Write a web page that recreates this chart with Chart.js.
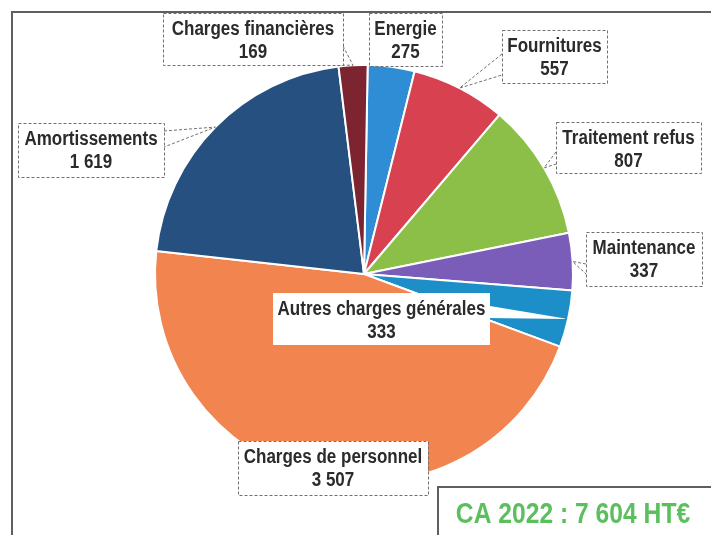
<!DOCTYPE html>
<html>
<head>
<meta charset="utf-8">
<script src="https://cdn.jsdelivr.net/npm/chart.js@4"></script>
<style>
  html, body { margin: 0; padding: 0; background: #fff; }
  canvas { display: block; }
</style>
</head>
<body>
<canvas id="chart" width="711" height="535"></canvas>
<script>
// Répartition des charges 2022 (k€)
var categories = ["Energie", "Fournitures", "Traitement refus", "Maintenance",
  "Autres charges générales", "Charges de personnel", "Amortissements", "Charges financières"];
var values = [275, 557, 807, 337, 333, 3507, 1619, 169];
var caLabel = "CA 2022 : 7 604 HT€";

var sliceColors = ["#2f8dd6", "#d8414f", "#8cbf47", "#7a5db8", "#1c8ec8", "#f2844f", "#25507f", "#7c2531"];

// label boxes: [x, y, w, h], pointer base points on the box edge
var labelLayout = {
  "Energie":                  { box: [369, 13, 73, 53] },
  "Fournitures":              { box: [502, 30, 105, 53], base: [[502, 54], [502, 75]] },
  "Traitement refus":         { box: [556, 122, 145, 51], base: [[556, 152], [556, 164]] },
  "Maintenance":              { box: [586, 232, 116, 54], base: [[586, 264], [586, 274]] },
  "Autres charges générales": { box: [273, 293, 217, 52], base: [[490, 306], [490, 318]], plain: true },
  "Charges de personnel":     { box: [238, 441, 190, 54] },
  "Amortissements":           { box: [18, 123, 146, 54], base: [[164, 131], [164, 147]] },
  "Charges financières":      { box: [163, 13, 180, 52], base: [[343, 46], [336, 65]] }
};

function fmt(v) {
  return String(v).replace(/\B(?=(\d{3})+(?!\d))/g, " ");
}

function narrowText(ctx, str, x, y, size, color) {
  ctx.save();
  ctx.translate(x, y);
  ctx.scale(0.85, 1);
  ctx.font = "bold " + size + "px 'Liberation Sans', Arial, sans-serif";
  ctx.fillStyle = color;
  ctx.textAlign = "center";
  ctx.textBaseline = "middle";
  ctx.fillText(str, 0, 0);
  ctx.restore();
}

var calloutPlugin = {
  id: "callouts",
  afterDatasetsDraw: function (chart) {
    var ctx = chart.ctx;
    var arcs = chart.getDatasetMeta(0).data;

    arcs.forEach(function (arc, i) {
      var name = categories[i];
      var lay = labelLayout[name];
      if (!lay) return;
      var b = lay.box;
      var mid = (arc.startAngle + arc.endAngle) / 2;
      var tip = [arc.x + Math.cos(mid) * arc.outerRadius, arc.y + Math.sin(mid) * arc.outerRadius];

      ctx.save();
      // pointer wedge
      if (lay.base) {
        ctx.beginPath();
        ctx.moveTo(lay.base[0][0], lay.base[0][1]);
        ctx.lineTo(tip[0], tip[1]);
        ctx.lineTo(lay.base[1][0], lay.base[1][1]);
        ctx.closePath();
        ctx.fillStyle = "#fff";
        ctx.fill();
        if (!lay.plain) {
          ctx.beginPath();
          ctx.moveTo(lay.base[0][0], lay.base[0][1]);
          ctx.lineTo(tip[0], tip[1]);
          ctx.lineTo(lay.base[1][0], lay.base[1][1]);
          ctx.strokeStyle = "#6f6f6f";
          ctx.lineWidth = 1;
          ctx.setLineDash([3, 2]);
          ctx.stroke();
        }
      }
      // box
      ctx.fillStyle = "#fff";
      ctx.fillRect(b[0], b[1], b[2], b[3]);
      if (!lay.plain) {
        ctx.strokeStyle = "#6f6f6f";
        ctx.lineWidth = 1;
        ctx.setLineDash([3, 2]);
        ctx.strokeRect(b[0] + 0.5, b[1] + 0.5, b[2], b[3]);
      }
      ctx.restore();

      var cx = b[0] + b[2] / 2;
      narrowText(ctx, name, cx, b[1] + 16, 20, "#2b2b2b");
      narrowText(ctx, fmt(values[i]), cx, b[1] + 39, 20, "#2b2b2b");
    });

    // frame lines
    ctx.save();
    ctx.strokeStyle = "#5f5f5f";
    ctx.lineWidth = 2;
    ctx.setLineDash([]);
    ctx.beginPath();
    ctx.moveTo(711, 12);
    ctx.lineTo(12, 12);
    ctx.lineTo(12, 535);
    ctx.stroke();
    // CA box
    ctx.beginPath();
    ctx.moveTo(711, 487);
    ctx.lineTo(438, 487);
    ctx.lineTo(438, 535);
    ctx.stroke();
    ctx.restore();

    narrowText(ctx, caLabel, 573, 515, 29, "#5cbf5e");
  }
};

new Chart(document.getElementById("chart").getContext("2d"), {
  type: "pie",
  data: {
    labels: categories,
    datasets: [{
      data: values,
      backgroundColor: sliceColors,
      borderColor: "#fff",
      borderWidth: 2
    }]
  },
  options: {
    responsive: false,
    animation: false,
    rotation: 1,
    layout: { padding: { top: 64, bottom: 51, left: 154, right: 137 } },
    plugins: {
      legend: { display: false },
      tooltip: { enabled: false }
    }
  },
  plugins: [calloutPlugin]
});
</script>
</body>
</html>
